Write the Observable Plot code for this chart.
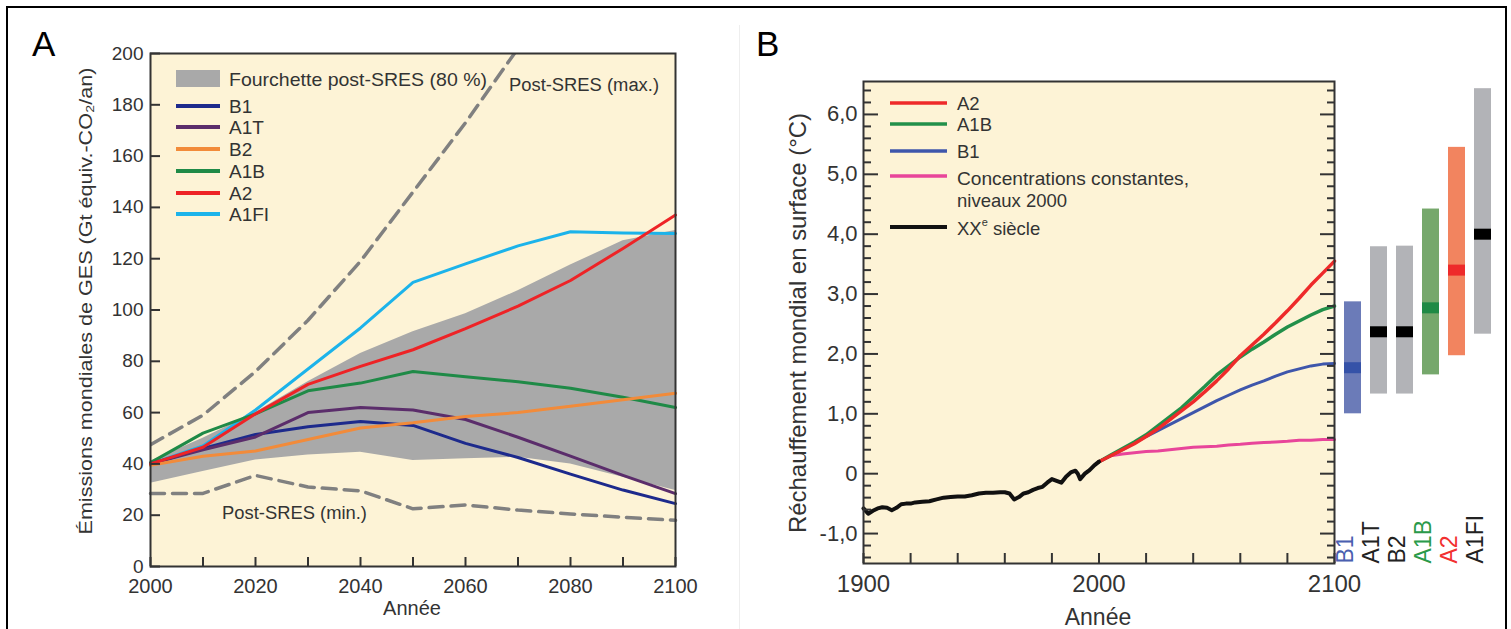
<!DOCTYPE html>
<html><head><meta charset="utf-8">
<script src="https://cdn.jsdelivr.net/npm/d3@7"></script>
<script src="https://cdn.jsdelivr.net/npm/@observablehq/plot@0.6"></script>
<style>
body{margin:0;background:#fff;}
#root{position:relative;width:1511px;height:629px;overflow:hidden;background:#fff;}
#root svg{position:absolute;}
#frame{position:absolute;left:6px;top:6px;width:1497px;height:700px;border:2px solid #000;}
</style></head><body><div id="root"><div id="frame"></div></div>
<script>
const FONT = '"Liberation Sans", Arial, Helvetica, sans-serif';

// ---------- Panel A data (émissions, Gt équiv.-CO2/an) ----------
const yearsA = [2000, 2010, 2020, 2030, 2040, 2050, 2060, 2070, 2080, 2090, 2100];
const bandLo = [32.5, 37, 41.5, 43.5, 44.5, 41.3, 42, 42.6, 40, 34.8, 29.6];
const bandHi = [41, 50, 60, 72, 83, 91.5, 98.5, 107.5, 117.5, 127, 131];
const postMaxYears = [2000, 2010, 2020, 2030, 2040, 2050, 2060, 2070];
const postMax = [47.5, 59, 76, 96, 119, 146, 173, 202];
const postMin = [28.5, 28.5, 35.5, 31, 29.5, 22.5, 24, 22, 20.5, 19.2, 18];
const emB1 = [40, 46, 51.5, 54.5, 56.5, 55, 48, 42.5, 36, 29.8, 24.5];
const emA1T = [40, 45.5, 50.5, 60, 62, 61, 57.3, 50.4, 43, 35.5, 28.4];
const emB2 = [39.5, 43, 45, 49.5, 54, 56, 58.5, 60, 62.5, 65, 67.5];
const emA1B = [40.5, 52, 59.5, 68.5, 71.5, 76, 74, 72, 69.5, 66, 62];
const emA2 = [40, 46.5, 59.5, 71, 78, 84.5, 92.7, 101.5, 111.5, 124, 137];
const emA1FI = [40, 47, 61, 77, 93, 110.8, 118, 125, 130.5, 130, 129.8];
const legendA = ["B1", "A1T", "B2", "A1B", "A2", "A1FI"];
const yTicksA = [0, 20, 40, 60, 80, 100, 120, 140, 160, 180, 200];
const xTicksA = [2000, 2010, 2020, 2030, 2040, 2050, 2060, 2070, 2080, 2090, 2100];
const xLabelsA = [2000, 2020, 2040, 2060, 2080, 2100];

// ---------- Panel B data (réchauffement, °C) ----------
const histYears = [1900,1902,1904,1906,1908,1910,1912,1914,1916,1918,1920,1922,1925,1928,1931,1934,1937,1940,1943,1946,1949,1952,1955,1958,1960,1962,1964,1966,1968,1970,1972,1974,1976,1978,1980,1982,1984,1986,1988,1990,1991,1992,1994,1996,1998,2000];
const histTemp = [-0.58,-0.67,-0.62,-0.58,-0.56,-0.57,-0.61,-0.57,-0.51,-0.5,-0.5,-0.48,-0.47,-0.46,-0.43,-0.4,-0.39,-0.38,-0.38,-0.36,-0.33,-0.32,-0.32,-0.31,-0.31,-0.33,-0.43,-0.39,-0.33,-0.31,-0.27,-0.24,-0.22,-0.15,-0.09,-0.12,-0.15,-0.05,0.02,0.05,0.0,-0.09,0.0,0.06,0.14,0.2];
const projYears = [2000,2005,2010,2015,2020,2025,2030,2035,2040,2045,2050,2055,2060,2065,2070,2075,2080,2085,2090,2095,2100];
const tA2 = [0.2,0.3,0.4,0.5,0.62,0.75,0.9,1.05,1.2,1.37,1.55,1.75,1.97,2.15,2.33,2.52,2.72,2.93,3.15,3.35,3.55];
const tA1B = [0.2,0.31,0.42,0.53,0.65,0.8,0.95,1.1,1.28,1.46,1.65,1.8,1.95,2.08,2.2,2.33,2.45,2.55,2.65,2.74,2.8];
const tB1 = [0.2,0.3,0.4,0.51,0.62,0.72,0.82,0.92,1.02,1.12,1.22,1.31,1.4,1.48,1.55,1.63,1.7,1.75,1.8,1.83,1.84];
const tConst = [0.2,0.3,0.33,0.35,0.37,0.38,0.4,0.42,0.44,0.45,0.46,0.48,0.49,0.51,0.52,0.53,0.54,0.56,0.56,0.57,0.57];
const barNames = ["B1", "A1T", "B2", "A1B", "A2", "A1FI"];
const barLo = [1.0, 1.33, 1.33, 1.65, 1.97, 2.33];
const barHi = [2.87, 3.79, 3.8, 4.42, 5.45, 6.43];
const barMean = [1.77, 2.37, 2.37, 2.77, 3.4, 4.0];
const yMajorB = [-1, 0, 1, 2, 3, 4, 5, 6];
const yMinorB = [-1.4,-1.2,-0.8,-0.6,-0.4,-0.2,0.2,0.4,0.6,0.8,1.2,1.4,1.6,1.8,2.2,2.4,2.6,2.8,3.2,3.4,3.6,3.8,4.2,4.4,4.6,4.8,5.2,5.4,5.6,5.8,6.2,6.4];
const xTicksB = [1900, 1920, 1940, 1960, 1980, 2000, 2020, 2040, 2060, 2080, 2100];
const xLabelsB = [1900, 2000, 2100];

// ---------- styles ----------
const colA = {B1: "#1d2a8c", A1T: "#5b2d6b", B2: "#f28b3a", A1B: "#1f8a47", A2: "#ee2326", A1FI: "#1cb3ea"};
const colB = {A2: "#ee2a2a", A1B: "#22904a", B1: "#3e56ab", C: "#e8459a", XX: "#111"};
const barFill = {B1: "#6b7bb8", A1T: "#b2b3b7", B2: "#b2b3b7", A1B: "#76a86c", A2: "#f2845f", A1FI: "#b2b3b7"};
const barMark = {B1: "#3552a8", A1T: "#000", B2: "#000", A1B: "#1f8a45", A2: "#ee2a2a", A1FI: "#000"};
const barText = {B1: "#4a5fb0", A1T: "#222", B2: "#222", A1B: "#2a9a4a", A2: "#f23030", A1FI: "#222"};

const root = document.getElementById("root");
const rowsOf = (xs, ys) => xs.map((x, i) => ({x, y: ys[i]}));
const bandRows = yearsA.map((x, i) => ({x, lo: bandLo[i], hi: bandHi[i]}));
const seriesA = {B1: emB1, A1T: emA1T, B2: emB2, A1B: emA1B, A2: emA2, A1FI: emA1FI};
const drawOrderA = ["A1FI", "A1B", "B1", "A1T", "B2", "A2"];

const plotA = Plot.plot({
  width: 740, height: 629,
  marginLeft: 150, marginRight: 65, marginTop: 53, marginBottom: 63,
  x: {domain: [2000, 2100]},
  y: {domain: [0, 200]},
  style: {fontFamily: FONT, fontSize: "19px", color: "#333", background: "transparent", overflow: "visible"},
  marks: [
    Plot.frame({fill: "#fdf3d6", stroke: null}),
    Plot.areaY(bandRows, {x: "x", y1: "lo", y2: "hi", fill: "#a9a9a9"}),
    Plot.line(rowsOf(postMaxYears, postMax), {x: "x", y: "y", stroke: "#808080", strokeWidth: 3.5, strokeDasharray: "14,8", clip: true}),
    Plot.line(rowsOf(yearsA, postMin), {x: "x", y: "y", stroke: "#808080", strokeWidth: 3.5, strokeDasharray: "14,8"}),
    ...drawOrderA.map(k => Plot.line(rowsOf(yearsA, seriesA[k]), {x: "x", y: "y", stroke: colA[k], strokeWidth: 3})),
    Plot.frame({stroke: "#333", strokeWidth: 2}),
    Plot.axisY({ticks: yTicksA, tickSize: -10, tickPadding: 17, strokeWidth: 2, label: null, fontSize: 19}),
    Plot.axisX({ticks: xTicksA, tickSize: -9, tickPadding: 21, strokeWidth: 2, label: null, fontSize: 20,
      tickFormat: d => xLabelsA.includes(d) ? String(d) : ""})
  ]
});
plotA.style.left = "0px"; plotA.style.top = "0px";
root.appendChild(plotA);

const fmtB = d => d === 0 ? "0" : d.toFixed(1).replace(".", ",");
const plotB = Plot.plot({
  width: 600, height: 629,
  marginLeft: 123, marginRight: 6, marginTop: 81, marginBottom: 66,
  x: {domain: [1900, 2100]},
  y: {domain: [-1.5, 6.55]},
  style: {fontFamily: FONT, fontSize: "22px", color: "#333", background: "transparent", overflow: "visible"},
  marks: [
    Plot.frame({fill: "#fdf3d6", stroke: null}),
    Plot.line(rowsOf(projYears, tConst), {x: "x", y: "y", stroke: colB.C, strokeWidth: 3}),
    Plot.line(rowsOf(projYears, tB1), {x: "x", y: "y", stroke: colB.B1, strokeWidth: 3}),
    Plot.line(rowsOf(projYears, tA1B), {x: "x", y: "y", stroke: colB.A1B, strokeWidth: 3.5}),
    Plot.line(rowsOf(projYears, tA2), {x: "x", y: "y", stroke: colB.A2, strokeWidth: 3.5}),
    Plot.line(rowsOf(histYears, histTemp), {x: "x", y: "y", stroke: colB.XX, strokeWidth: 4}),
    Plot.frame({stroke: "#333", strokeWidth: 2}),
    Plot.axisY({ticks: yMajorB, tickSize: -15, tickPadding: 21, strokeWidth: 2, label: null, tickFormat: fmtB}),
    Plot.axisY({ticks: yMinorB, tickSize: -8, strokeWidth: 2, label: null, tickFormat: () => ""}),
    Plot.axisY({anchor: "right", ticks: yMajorB, tickSize: -15, strokeWidth: 2, label: null, tickFormat: () => ""}),
    Plot.axisY({anchor: "right", ticks: yMinorB, tickSize: -8, strokeWidth: 2, label: null, tickFormat: () => ""}),
    Plot.axisX({ticks: xTicksB, tickSize: -10, tickPadding: 21, strokeWidth: 2, label: null, fontSize: 24,
      tickFormat: d => xLabelsB.includes(d) ? String(d) : ""})
  ]
});
plotB.style.left = "740px"; plotB.style.top = "0px";
root.appendChild(plotB);

const barRows = barNames.map((name, i) => ({name, lo: barLo[i], hi: barHi[i], mean: barMean[i]}));
const plotBars = Plot.plot({
  width: 160, height: 629,
  marginLeft: 0, marginRight: 0, marginTop: 81, marginBottom: 66,
  x: {domain: barNames, paddingInner: 0.36, paddingOuter: 0.18, axis: null},
  y: {domain: [-1.5, 6.55], axis: null},
  color: {type: "identity"},
  style: {fontFamily: FONT, fontSize: "23px", background: "transparent", overflow: "visible"},
  marks: [
    Plot.barY(barRows, {x: "name", y1: "lo", y2: "hi", fill: d => barFill[d.name]}),
    Plot.tickY(barRows, {x: "name", y: "mean", stroke: d => barMark[d.name], strokeWidth: 11}),
    Plot.text(barRows, {x: "name", text: "name", frameAnchor: "bottom", rotate: -90, textAnchor: "start",
      fill: d => barText[d.name], fontSize: 23, dx: 0})
  ]
});
plotBars.style.left = "1337px"; plotBars.style.top = "0px";
root.appendChild(plotBars);

// ---------- overlay: panel letters, titles, legends, annotations ----------
const ov = d3.select(root).append("svg")
  .attr("width", 1511).attr("height", 629)
  .style("left", "0px").style("top", "0px")
  .style("font-family", FONT);

ov.append("line").attr("x1", 739.5).attr("x2", 739.5).attr("y1", 25).attr("y2", 629)
  .attr("stroke", "#eeeeee").attr("stroke-width", 1);

function label(t, x, y, size, opts = {}) {
  const e = ov.append("text").attr("x", x).attr("y", y).attr("font-size", size)
    .attr("fill", opts.fill || "#333").attr("dominant-baseline", opts.baseline || "central")
    .attr("text-anchor", opts.anchor || "start").text(t);
  if (opts.len) e.attr("textLength", opts.len).attr("lengthAdjust", "spacingAndGlyphs");
  if (opts.rotate) e.attr("transform", `rotate(-90 ${x} ${y})`);
  return e;
}

label("A", 32, 56, 35, {fill: "#000", baseline: "alphabetic"});
label("B", 756, 56, 35, {fill: "#000", baseline: "alphabetic"});

// Panel A legend
ov.append("rect").attr("x", 176).attr("y", 70).attr("width", 44).attr("height", 17).attr("fill", "#a9a9a9");
label("Fourchette post-SRES (80 %)", 229, 79, 19, {len: 258});
const legYA = [106, 127, 149, 171, 193, 214];
legendA.forEach((k, i) => {
  ov.append("line").attr("x1", 176).attr("x2", 220).attr("y1", legYA[i]).attr("y2", legYA[i])
    .attr("stroke", colA[k]).attr("stroke-width", 4);
  label(k, 229, legYA[i], 19);
});
label("Post-SRES (max.)", 509, 85, 18, {len: 150});
label("Post-SRES (min.)", 222, 513, 18, {len: 145});
label("Émissions mondiales de GES (Gt équiv.-CO₂/an)", 85, 301, 19, {anchor: "middle", rotate: true, len: 467});
label("Année", 412, 615, 20, {anchor: "middle", baseline: "alphabetic"});

// Panel B legend
const legB = [["A2", colB.A2, 103], ["A1B", colB.A1B, 124], ["B1", colB.B1, 151], ["C", colB.C, 176], ["XX", colB.XX, 227]];
legB.forEach(([k, c, y]) => {
  ov.append("line").attr("x1", 890).attr("x2", 947).attr("y1", y).attr("y2", y)
    .attr("stroke", c).attr("stroke-width", k === "XX" ? 4 : 3.5);
});
label("A2", 957, 103, 18.5);
label("A1B", 957, 124, 18.5);
label("B1", 957, 151, 18.5);
label("Concentrations constantes,", 957, 178, 18.5, {len: 232});
label("niveaux 2000", 957, 200, 18.5);
const xx = label("XX", 957, 228, 18.5);
xx.append("tspan").attr("font-size", 11).attr("dy", -6).text("e");
xx.append("tspan").attr("dy", 6).text(" siècle");
label("Réchauffement mondial en surface (°C)", 797, 323, 24, {anchor: "middle", rotate: true, len: 420});
label("Année", 1098, 625, 23, {anchor: "middle", baseline: "alphabetic"});
</script>
</body></html>
